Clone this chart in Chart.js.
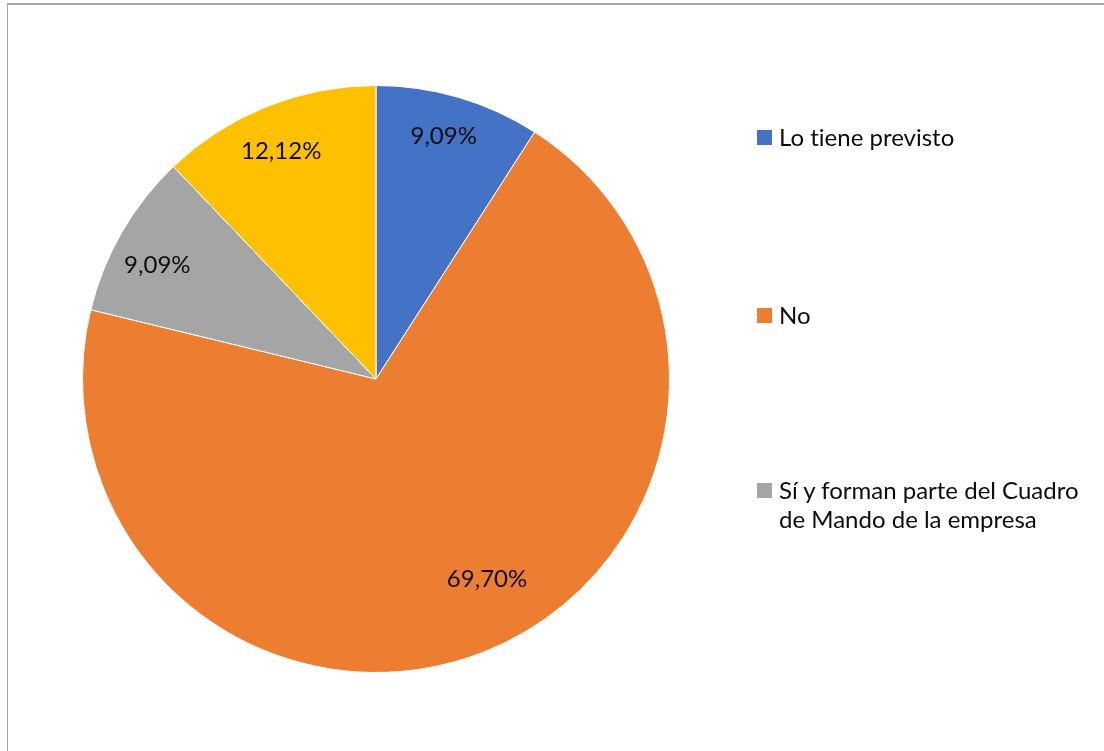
<!DOCTYPE html>
<html>
<head>
<meta charset="utf-8">
<script src="https://cdn.jsdelivr.net/npm/chart.js@4/dist/chart.umd.min.js"></script>
<style>
  html, body { margin: 0; padding: 0; background: #fff; }
  #wrap { position: relative; width: 1104px; height: 751px; overflow: hidden; }
  #frame { position: absolute; left: 7px; top: 3px; width: 1200px; height: 900px;
           border-left: 1px solid #a6a6a6; border-top: 2px solid #a6a6a6; box-sizing: border-box; }
  canvas { position: absolute; left: 0; top: 0; }
  .leg { position: absolute; left: 757px; font-family: Lato, "Open Sans", sans-serif;
         font-size: 24px; color: #0d0d0d; line-height: 29px; font-variant-ligatures: none; }
  .leg .sw { position: absolute; left: 0; top: 0; width: 15px; height: 15px; }
  .leg .tx { position: absolute; left: 22px; top: -8px; white-space: nowrap; }
</style>
</head>
<body>
<div id="wrap">
  <div id="frame"></div>
  <canvas id="c" width="1104" height="751"></canvas>
</div>
<script>
const categories = ["Lo tiene previsto", "No", "Sí y forman parte del Cuadro de Mando de la empresa", ""];
const legendLines = [["Lo tiene previsto"], ["No"], ["Sí y forman parte del Cuadro", "de Mando de la empresa"]];
const values = [9.09, 69.70, 9.09, 12.12];
const valueLabels = ["9,09%", "69,70%", "9,09%", "12,12%"];
const colors = ["#4472C4", "#ED7D31", "#A5A5A5", "#FFC000"];

// label placement (style): radial fraction and angular shift in degrees
const labelRadius = [0.86, 0.78, 0.84, 0.84];
const labelShift = [-0.8, -7.2, -2.5, -0.8];

const dataLabelPlugin = {
  id: 'dataLabels',
  afterDatasetsDraw(chart) {
    const ctx = chart.ctx;
    const meta = chart.getDatasetMeta(0);
    ctx.save();
    ctx.font = '24px Lato, "Open Sans", sans-serif';
    ctx.fillStyle = '#0d0d0d';
    ctx.textAlign = 'center';
    ctx.textBaseline = 'middle';
    meta.data.forEach((arc, i) => {
      const p = arc.getProps(['x', 'y', 'startAngle', 'endAngle', 'outerRadius'], true);
      const mid = (p.startAngle + p.endAngle) / 2 + labelShift[i] * Math.PI / 180;
      const r = p.outerRadius * labelRadius[i];
      ctx.fillText(valueLabels[i], p.x + Math.cos(mid) * r, p.y + Math.sin(mid) * r);
    });
    ctx.restore();
  }
};

new Chart(document.getElementById('c'), {
  type: 'pie',
  data: {
    labels: categories,
    datasets: [{
      data: values,
      backgroundColor: colors,
      borderColor: '#ffffff',
      borderWidth: 1
    }]
  },
  options: {
    responsive: false,
    animation: false,
    layout: { padding: { left: 82, right: 434, top: 85, bottom: 78 } },
    plugins: {
      legend: { display: false },
      tooltip: { enabled: false }
    }
  },
  plugins: [dataLabelPlugin]
});

// HTML legend built from the arrays
const legendTops = [130, 308, 483];
const wrap = document.getElementById('wrap');
legendLines.forEach((lines, i) => {
  const d = document.createElement('div');
  d.className = 'leg';
  d.style.top = legendTops[i] + 'px';
  const sw = document.createElement('div');
  sw.className = 'sw';
  sw.style.background = colors[i];
  const tx = document.createElement('div');
  tx.className = 'tx';
  tx.innerHTML = lines.join('<br>');
  d.appendChild(sw); d.appendChild(tx);
  wrap.appendChild(d);
});
</script>
</body>
</html>
